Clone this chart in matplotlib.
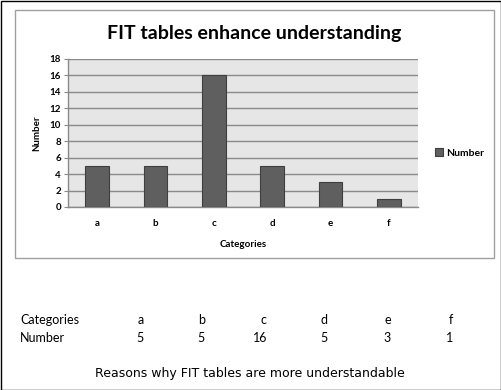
import matplotlib
matplotlib.use("Agg")
import matplotlib.pyplot as plt
from matplotlib.patches import Rectangle

categories = ["a", "b", "c", "d", "e", "f"]
values = [5, 5, 16, 5, 3, 1]
yticks = [0, 2, 4, 6, 8, 10, 12, 14, 16, 18]
title = "FIT tables enhance understanding"
series_name = "Number"
caption = "Reasons why FIT tables are more understandable"

W, H = 502, 390
fig = plt.figure(figsize=(W / 100, H / 100), dpi=100)
fig.patch.set_facecolor("white")

def fx(px):
    return px / W

def fy(py):
    return 1 - py / H

# outer black frame
fig.patches.append(Rectangle((0.5 / W, 0.5 / H), 1 - 1.0 / W, 1 - 1.0 / H,
                             transform=fig.transFigure, fill=False,
                             edgecolor="black", linewidth=1.0))
# chart area gray frame
fig.patches.append(Rectangle((fx(15), fy(258)), fx(494) - fx(15), fy(10) - fy(258),
                             transform=fig.transFigure, fill=False,
                             edgecolor="#a0a0a0", linewidth=1.0))

ax = fig.add_axes([fx(68), fy(207), fx(418) - fx(68), fy(59) - fy(207)])
ax.set_facecolor("#e6e6e6")
x = list(range(len(categories)))
ax.bar(x, values, width=0.41, color="#5f5f5f", edgecolor="#3f3f3f",
       linewidth=0.8, zorder=3, label=series_name)
ax.set_xlim(-0.5, len(categories) - 0.5)
ax.set_ylim(0, 18)
ax.set_yticks(yticks)
ax.set_xticks(x)
ax.set_xticklabels(categories)
ax.yaxis.grid(True, color="#8a8a8a", linewidth=1.0, zorder=1)
ax.set_axisbelow(True)
for s in ["top", "right"]:
    ax.spines[s].set_visible(False)
for s in ["left", "bottom"]:
    ax.spines[s].set_color("#8a8a8a")
    ax.spines[s].set_linewidth(1.0)
ax.tick_params(axis="y", length=3, color="#8a8a8a", pad=2, labelsize=7)
ax.tick_params(axis="x", length=0, pad=9, labelsize=7)
for lab in ax.get_xticklabels() + ax.get_yticklabels():
    lab.set_fontweight("bold")
    lab.set_family("Lato")
ax.set_xlabel("Categories", fontsize=7, fontweight="bold", family="Lato", labelpad=8)
ax.set_ylabel("Number", fontsize=7, fontweight="bold", family="Lato", labelpad=6)

fig.text(fx(254), fy(33), title, ha="center", va="center", fontsize=14,
         fontweight="bold", family="Lato")

leg = ax.legend(loc="center left", bbox_to_anchor=(fx(435), fy(153)),
                bbox_transform=fig.transFigure, frameon=False,
                prop={"family": "Lato", "weight": "bold", "size": 7.5},
                handlelength=0.8, handleheight=0.8, handletextpad=0.3,
                borderaxespad=0, borderpad=0)

# data table below
fig.text(fx(20), fy(320), "Categories", ha="left", va="center", fontsize=9, family="Lato")
fig.text(fx(20), fy(338), series_name, ha="left", va="center", fontsize=9, family="Lato")
col_right = [144, 205, 267, 328, 391, 453]
for cx, c, v in zip(col_right, categories, values):
    fig.text(fx(cx), fy(320), c, ha="right", va="center", fontsize=9, family="Lato")
    fig.text(fx(cx), fy(338), str(v), ha="right", va="center", fontsize=9, family="Lato")

fig.text(fx(250), fy(374), caption, ha="center", va="center", fontsize=9,
         family="DejaVu Sans")

fig.savefig("out.png", dpi=100)
